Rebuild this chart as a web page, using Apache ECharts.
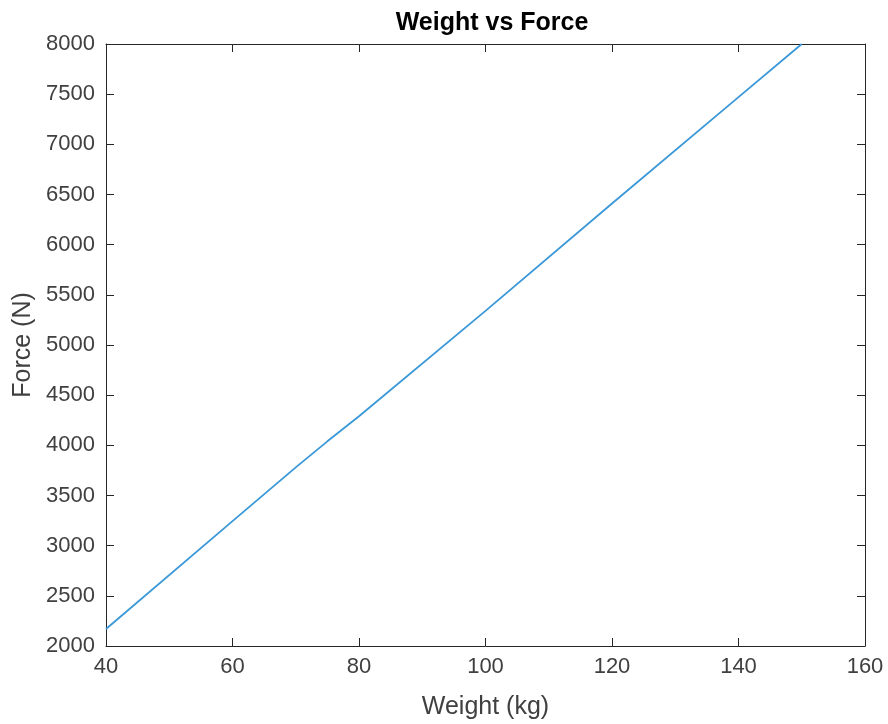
<!DOCTYPE html>
<html>
<head>
<meta charset="utf-8">
<script src="https://cdn.jsdelivr.net/npm/echarts@6/dist/echarts.min.js"></script>
<style>
  html, body { margin: 0; padding: 0; background: #fff; }
  #chart { width: 888px; height: 724px; }
</style>
</head>
<body>
<div id="chart"></div>
<script>
// weight (kg) and measured force (N)
const weights = [40, 60, 70, 75, 80, 100, 120, 140, 150];
const forces = [2170, 3245, 3780, 4040, 4290, 5340, 6410, 7470, 8000];

const xTicks = { min: 40, max: 160, interval: 20 };
const yTicks = { min: 2000, max: 8000, interval: 500 };

const axisColor = '#262626';
const textColor = '#404040';
const font = 'Liberation Sans, Arial, sans-serif';

const points = weights.map((w, i) => [w, forces[i]]);

// 坐标轴公共样式
const boxAxis = (extra) => Object.assign({
  type: 'value',
  axisLine: { show: true, lineStyle: { color: axisColor, width: 1 } },
  axisTick: { show: true, inside: true, length: 8, lineStyle: { color: axisColor } },
  splitLine: { show: false },
  axisLabel: { show: false }
}, extra);

const tickLabel = (margin) => ({
  color: textColor, fontSize: 22, fontFamily: font, margin: margin,
  formatter: (v) => String(v)
});

const option = {
  backgroundColor: '#fff',
  animation: false,
  title: {
    text: 'Weight vs Force',
    left: 487,
    textAlign: 'center',
    top: 6,
    textStyle: { fontSize: 25, fontWeight: 'bold', color: '#000', fontFamily: font }
  },
  grid: { left: 106, right: 23, top: 44, bottom: 78, outerBoundsMode: 'none', containLabel: false },
  xAxis: [
    boxAxis({
      min: xTicks.min, max: xTicks.max, interval: xTicks.interval,
      position: 'bottom',
      name: 'Weight (kg)',
      nameLocation: 'middle',
      nameGap: 49,
      nameTextStyle: { color: textColor, fontSize: 25, fontFamily: font },
      axisLabel: tickLabel(10)
    }),
    boxAxis({
      min: xTicks.min, max: xTicks.max, interval: xTicks.interval,
      position: 'top'
    })
  ],
  yAxis: [
    boxAxis({
      min: yTicks.min, max: yTicks.max, interval: yTicks.interval,
      position: 'left',
      name: 'Force (N)',
      nameLocation: 'middle',
      nameGap: 70,
      nameTextStyle: { color: textColor, fontSize: 25, fontFamily: font },
      axisLabel: tickLabel(11)
    }),
    boxAxis({
      min: yTicks.min, max: yTicks.max, interval: yTicks.interval,
      position: 'right'
    })
  ],
  series: [
    {
      type: 'line',
      data: points,
      showSymbol: false,
      lineStyle: { color: '#3b98d8', width: 1.8 },
      clip: true
    }
  ]
};

const chart = echarts.init(document.getElementById('chart'));
chart.setOption(option);
</script>
</body>
</html>
